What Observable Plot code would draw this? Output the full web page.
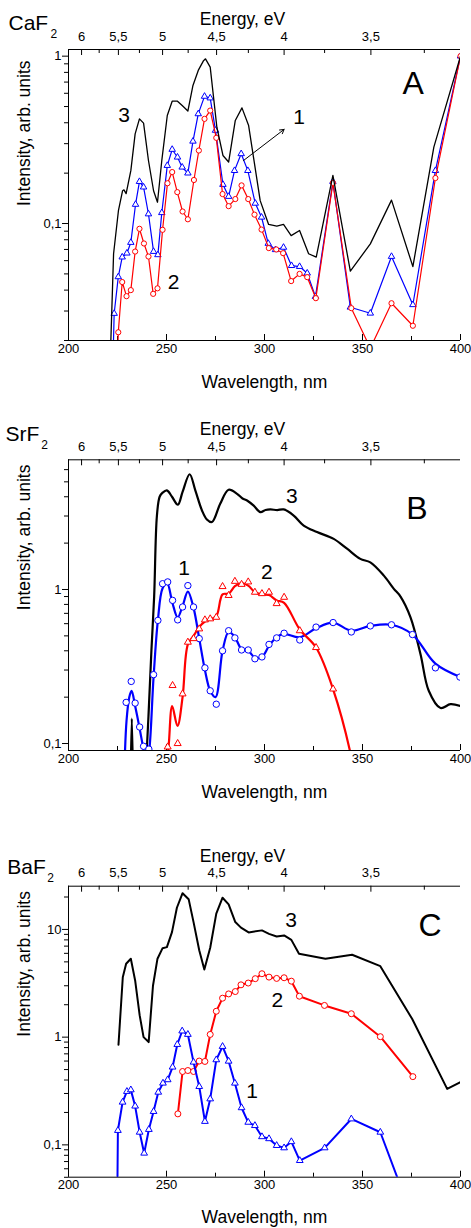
<!DOCTYPE html>
<html><head><meta charset="utf-8">
<script src="https://cdn.jsdelivr.net/npm/d3@7"></script>
<script src="https://cdn.jsdelivr.net/npm/@observablehq/plot@0.6"></script>
<style>
html,body{margin:0;padding:0;background:#fff;}
#chart{width:471px;height:1228px;overflow:hidden;}
#chart svg{display:block;}
</style></head><body><div id="chart"></div>
<script>
// ---------- axis ticks ----------
const wavelengthTicks = [200, 250, 300, 350, 400];
const wavelengthMinor = [225, 275, 325, 375];
const energyTicks = [6, 5.5, 5, 4.5, 4, 3.5];
const energyLabels = ["6", "5,5", "5", "4,5", "4", "3,5"];
const energyMinor = [5.75, 5.25, 4.75, 4.25, 3.75, 3.25];

// ---------- Panel A: CaF2 ----------
const cafCurve1 = [[222.5,0.012],[223.3,0.029],[225.4,0.048],[227.4,0.063],[229.8,0.0665],[231.8,0.077],[234.2,0.13],[236.2,0.178],[238.3,0.165],[240.8,0.114],[243.4,0.068],[245.6,0.065],[247.6,0.116],[250.4,0.222],[252.9,0.277],[255.6,0.249],[258.0,0.217],[260.9,0.2],[263.5,0.31],[266.2,0.452],[269.4,0.575],[272.3,0.562],[275.0,0.36],[278.8,0.171],[281.7,0.145],[284.7,0.207],[288.1,0.261],[291.5,0.207],[295.3,0.132],[298.5,0.109],[301.9,0.076],[305.6,0.0697],[309.7,0.072],[313.8,0.056],[317.9,0.0553],[321.8,0.0505],[326.0,0.0366],[334.9,0.178],[343.8,0.0316],[354.0,0.0291],[364.8,0.0635],[375.7,0.0327],[387.2,0.207],[400,1.0]];
const cafCurve2 = [[224.6,0.01],[225.4,0.0224],[227.4,0.0447],[229.6,0.0368],[231.8,0.040],[234.0,0.068],[236.2,0.093],[238.5,0.076],[240.8,0.0635],[243.2,0.038],[245.4,0.041],[248.0,0.0917],[250.5,0.174],[252.9,0.203],[255.5,0.154],[258.2,0.118],[260.9,0.106],[264.0,0.182],[266.5,0.273],[269.4,0.422],[272.3,0.473],[275.4,0.325],[278.6,0.15],[281.7,0.127],[285.1,0.14],[288.3,0.169],[291.7,0.14],[294.9,0.113],[298.5,0.092],[302.2,0.0713],[306.0,0.070],[309.5,0.0665],[313.6,0.0453],[317.9,0.05],[321.8,0.0478],[326.2,0.0358],[334.9,0.175],[344.3,0.0312],[354.0,0.018],[364.8,0.0334],[375.7,0.0245],[387.2,0.187],[400,1.0]];
const cafCurve3 = [[220.8,0.01],[223.0,0.066],[225.5,0.12],[227.6,0.157],[228.3,0.159],[229.4,0.151],[231.8,0.207],[234.0,0.343],[236.2,0.422],[238.3,0.398],[240.8,0.238],[243.4,0.157],[245.4,0.134],[247.6,0.238],[250.4,0.442],[252.9,0.538],[255.6,0.538],[258.0,0.507],[260.9,0.47],[263.5,0.668],[266.2,0.822],[268.9,0.94],[269.9,0.964],[272.3,0.86],[275.7,0.376],[278.8,0.255],[281.7,0.233],[285.1,0.413],[288.5,0.491],[291.9,0.385],[297.8,0.137],[302.1,0.0987],[306.3,0.0965],[309.7,0.0987],[313.6,0.0847],[317.9,0.0908],[322.5,0.066],[326.4,0.063],[334.9,0.194],[343.8,0.0519],[354.0,0.0756],[364.8,0.138],[375.7,0.0553],[386.4,0.286],[400,1.0]];
const cafCurveLabels = [{x:228.4,y:0.442,text:"3"},{x:253.6,y:0.0446,text:"2"},{x:317.7,y:0.432,text:"1"}];
const cafPanelLetter = [{x:375.9,y:0.687,text:"A"}];
const cafArrow = [{x1:289.3,y1:0.238,x2:310.0,y2:0.365}];

// ---------- Panel B: SrF2 ----------
const srfPoints1 = [[229.4,0.185],[232.0,0.253],[234.0,0.183],[236.3,0.128],[238.3,0.096],[241.0,0.092],[243.4,0.28],[245.6,0.63],[248.0,1.09],[250.6,1.12],[253.1,0.85],[255.7,0.635],[258.2,0.77],[260.9,1.06],[263.8,0.77],[266.7,0.48],[269.6,0.31],[272.3,0.22],[275.4,0.18],[278.6,0.40],[281.7,0.54],[284.9,0.485],[288.3,0.405],[291.7,0.405],[295.1,0.355],[298.7,0.365],[302.3,0.44],[306.2,0.485],[310.0,0.52],[318.0,0.47],[326.3,0.57],[335.0,0.61],[344.3,0.53],[354.0,0.58],[364.8,0.59],[375.5,0.51],[387.2,0.31],[399.7,0.27]];
const srfCurve1 = [[228.4,0.06],[229.6,0.14],[231.0,0.2],[232.2,0.22],[234.0,0.175],[236.3,0.125],[238.3,0.09],[239.5,0.07],[241.0,0.085],[243.4,0.27],[245.6,0.63],[248.0,1.02],[250.3,1.1],[253.0,0.82],[255.7,0.66],[258.2,0.78],[260.9,0.97],[263.8,0.76],[266.7,0.48],[269.6,0.3],[272.3,0.22],[275.0,0.2],[278.6,0.4],[281.7,0.53],[284.9,0.49],[288.3,0.41],[291.7,0.4],[295.1,0.36],[298.7,0.365],[302.3,0.43],[306.2,0.49],[310.0,0.515],[318.0,0.49],[326.3,0.56],[335.0,0.61],[344.3,0.54],[354.0,0.58],[364.8,0.59],[375.5,0.51],[387.2,0.33],[400,0.27]];
const srfPoints2 = [[250.6,0.095],[253.1,0.238],[255.7,0.10],[258.2,0.21],[260.9,0.455],[263.8,0.48],[266.7,0.555],[269.6,0.635],[272.3,0.645],[275.4,0.66],[278.6,1.045],[281.7,0.915],[284.9,1.13],[288.3,1.08],[291.7,1.12],[295.1,0.96],[298.7,0.94],[302.3,0.96],[306.2,0.81],[310.0,0.89],[318.0,0.54],[326.3,0.42],[335.0,0.226]];
const srfCurve2 = [[249.8,0.06],[251.2,0.1],[252.9,0.175],[255.6,0.13],[258.2,0.2],[260.9,0.44],[263.8,0.5],[266.7,0.57],[269.6,0.62],[272.3,0.64],[275.4,0.67],[278.6,0.93],[281.7,0.94],[284.9,1.05],[288.3,1.1],[291.7,1.06],[295.1,0.96],[298.7,0.93],[302.3,0.92],[306.2,0.85],[310.0,0.82],[318.0,0.55],[326.3,0.42],[335.0,0.225],[344.0,0.085],[346.0,0.06]];
const srfCurve3 = [[231.6,0.05],[232.3,0.145],[233.0,0.05],[235.0,NaN],[238.9,0.05],[240.8,0.15],[242.3,0.4],[243.7,0.9],[245.1,3.0],[246.5,4.0],[248.0,4.25],[250.2,4.4],[252.8,4.0],[255.8,3.55],[258.2,4.3],[261.8,5.6],[264.7,4.4],[268.1,3.26],[270.6,2.85],[273.2,2.74],[277.4,3.6],[281.7,4.44],[286.0,4.18],[288.8,3.9],[291.1,3.78],[294.5,3.5],[297.9,3.18],[300.5,3.28],[303.0,3.31],[306.5,3.28],[309.8,3.31],[314.9,3.02],[320.0,2.6],[326.8,2.36],[335.3,2.13],[342.1,1.84],[348.9,1.58],[354.0,1.5],[360.9,1.23],[366.0,1.01],[369.4,0.9],[374.5,0.66],[379.6,0.38],[383.8,0.22],[389.8,0.17],[394.9,0.18],[400,0.175]];
const srfCurveLabels = [{x:314.0,y:4.04,text:"3"},{x:259.0,y:1.37,text:"1"},{x:301.2,y:1.29,text:"2"}];
const srfPanelLetter = [{x:377.8,y:3.36,text:"B"}];

// ---------- Panel C: BaF2 ----------
const bafCurve1 = [[224.8,0.02],[225.2,0.136],[227.6,0.249],[229.8,0.313],[231.8,0.324],[234.0,0.229],[236.3,0.131],[238.6,0.0837],[241.0,0.139],[243.4,0.204],[245.8,0.308],[248.2,0.374],[250.6,0.402],[253.1,0.527],[255.5,0.855],[258.0,1.14],[260.9,1.06],[263.8,0.586],[266.7,0.348],[269.6,0.165],[272.3,0.267],[275.4,0.616],[278.6,0.819],[281.7,0.598],[284.9,0.374],[288.3,0.221],[291.7,0.162],[295.1,0.151],[298.7,0.119],[302.3,0.114],[306.2,0.0986],[310.0,0.0938],[313.7,0.107],[318.0,0.0715],[330.7,0.0938],[344.3,0.174],[359.1,0.131],[372.0,0.031]];
const bafCurve2 = [[255.8,0.194],[258.2,0.48],[260.9,0.49],[263.8,0.48],[266.7,0.6],[269.6,0.595],[272.3,1.06],[275.4,1.74],[278.6,2.3],[281.7,2.52],[285.1,2.65],[288.0,3.06],[291.7,3.18],[295.3,3.49],[298.7,3.88],[302.3,3.61],[306.2,3.51],[310.0,3.56],[313.7,3.31],[317.8,2.4],[330.6,1.97],[344.3,1.65],[359.1,1.01],[375.7,0.43]];
const bafCurve3 = [[225.5,0.85],[227.7,3.6],[229.4,4.8],[231.8,5.35],[234.0,3.36],[236.3,1.6],[238.3,1.0],[240.9,0.9],[243.1,3.0],[245.4,5.35],[248.0,6.7],[250.2,6.85],[252.8,9.45],[255.3,15.9],[258.2,21.7],[261.3,19.1],[263.8,11.7],[266.7,6.4],[269.3,4.25],[272.3,6.76],[275.4,14.0],[278.6,19.7],[281.7,17.1],[285.1,11.7],[288.0,10.4],[291.9,9.38],[298.7,9.8],[302.3,9.1],[306.2,8.6],[310.0,8.8],[313.7,8.0],[317.6,5.94],[331.1,5.35],[344.7,5.82],[359.1,4.56],[375.3,1.48],[393.2,0.331],[400,0.382]];
const bafCurveLabels = [{x:313.6,y:12.1,text:"3"},{x:306.5,y:2.19,text:"2"},{x:293.7,y:0.313,text:"1"}];
const bafPanelLetter = [{x:384.5,y:10.9,text:"C"}];

// ---------- helpers ----------
const rows = (pairs) => pairs.map(([x, y]) => ({x, y}));
const FONT = "'Liberation Sans', Arial, Helvetica, sans-serif";
const RED = "#ff0000", BLUE = "#0000ff";

function panel(o) {
  const plotH = o.height - o.marginTop - o.marginBottom;
  const eMajor = energyTicks.map(e => 1240 / e);
  const eLabel = new Map(eMajor.map((x, i) => [x, energyLabels[i]]));
  const eMinor = energyMinor.map(e => 1240 / e);
  const yLabel = new Map(o.yTicks.map((v, i) => [v, o.yLabels[i]]));
  return Plot.plot({
    width: 471, height: o.height,
    marginLeft: 68, marginRight: 11, marginTop: o.marginTop, marginBottom: o.marginBottom,
    style: {fontFamily: FONT, fontSize: "13px", color: "#000", background: "#fff", overflow: "visible"},
    x: {domain: [200, 400]},
    y: {type: "log", domain: o.yDomain},
    marks: [
      Plot.ruleX([200], {stroke: "#000", strokeWidth: 1}),
      Plot.ruleY(o.yDomain, {stroke: "#000", strokeWidth: 1}),
      Plot.axisY(o.yTicks, {anchor: "left", tickSize: 6, tickPadding: 1, tickFormat: d => yLabel.get(d), label: null}),
      Plot.axisY(o.yMinor, {anchor: "left", tickSize: 4, tickFormat: () => "", label: null}),
      Plot.tickX(wavelengthTicks, {x: d => d, insetTop: plotH - 6}),
      Plot.tickX(wavelengthMinor, {x: d => d, insetTop: plotH - 4}),
      Plot.axisX(wavelengthTicks, {anchor: "bottom", tickSize: 0, tickPadding: 3, label: null, tickFormat: d => String(d)}),
      Plot.tickX(eMajor, {x: d => d, insetBottom: plotH - 6}),
      Plot.tickX(eMinor, {x: d => d, insetBottom: plotH - 4}),
      Plot.axisX(eMajor, {anchor: "top", tickSize: 0, tickPadding: 9, label: null, tickFormat: d => eLabel.get(d)}),
      Plot.text(["Wavelength, nm"], {text: d => d, frameAnchor: "bottom", lineAnchor: "middle", dy: o.xTitleDy, fontSize: 17.5}),
      Plot.text(["Energy, eV"], {text: d => d, frameAnchor: "top", lineAnchor: "middle", dx: -22, dy: -30, fontSize: 17.5}),
      Plot.text(["Intensity, arb. units"], {text: d => d, frameAnchor: "left", lineAnchor: "middle", rotate: -90, dx: -44.5, dy: o.yTitleDy, fontSize: 17.5}),
      Plot.text([o.title], {text: d => d, frameAnchor: "top-left", lineAnchor: "middle", textAnchor: "start", dx: o.titleX - 68, dy: o.titleDy, fontSize: 21}),
      Plot.text([o.titleSub], {text: d => d, frameAnchor: "top-left", lineAnchor: "middle", textAnchor: "start", dx: o.subX - 68, dy: o.subDy, fontSize: 12}),
      ...o.marks
    ]
  });
}

const chart = document.getElementById("chart");

// Panel A
chart.appendChild(panel({
  height: 400, marginTop: 49, marginBottom: 60, yDomain: [0.02, 1.096],
  yTicks: [0.1, 1], yLabels: ["0,1", "1"],
  yMinor: [0.02,0.03,0.04,0.05,0.06,0.07,0.08,0.09,0.2,0.3,0.4,0.5,0.6,0.7,0.8,0.9],
  title: "CaF", titleSub: "2", titleX: 8, titleDy: -26.2, subX: 50, subDy: -15.8, xTitleDy: 41.5, yTitleDy: 11,
  marks: [
    Plot.line(rows(cafCurve1), {x: "x", y: "y", stroke: BLUE, strokeWidth: 1.2, clip: true}),
    Plot.dot(rows(cafCurve1), {x: "x", y: "y", symbol: "triangle", r: 2.4, stroke: BLUE, fill: "#fff", strokeWidth: 1, clip: true}),
    Plot.line(rows(cafCurve2), {x: "x", y: "y", stroke: RED, strokeWidth: 1.2, clip: true}),
    Plot.dot(rows(cafCurve2), {x: "x", y: "y", symbol: "circle", r: 2.6, stroke: RED, fill: "#fff", strokeWidth: 1, clip: true}),
    Plot.line(rows(cafCurve3), {x: "x", y: "y", stroke: "#000", strokeWidth: 1.3, clip: true}),
    Plot.arrow(cafArrow, {x1: "x1", y1: "y1", x2: "x2", y2: "y2", stroke: "#000", strokeWidth: 1, headLength: 7}),
    Plot.text(cafCurveLabels, {x: "x", y: "y", text: "text", fontSize: 21}),
    Plot.text(cafPanelLetter, {x: "x", y: "y", text: "text", fontSize: 32})
  ]
}));

// Panel B
chart.appendChild(panel({
  height: 420, marginTop: 59.3, marginBottom: 70, yDomain: [0.0901, 6.95],
  yTicks: [0.1, 1], yLabels: ["0,1", "1"],
  yMinor: [0.2,0.3,0.4,0.5,0.6,0.7,0.8,0.9,2,3,4,5,6],
  title: "SrF", titleSub: "2", titleX: 5, titleDy: -26, subX: 40.7, subDy: -15.1, xTitleDy: 41.5, yTitleDy: 5,
  marks: [
    Plot.line(rows(srfCurve3), {x: "x", y: "y", stroke: "#000", strokeWidth: 2.2, curve: "catmull-rom", clip: true}),
    Plot.line(rows(srfCurve1), {x: "x", y: "y", stroke: BLUE, strokeWidth: 2.2, curve: "catmull-rom", clip: true}),
    Plot.dot(rows(srfPoints1), {x: "x", y: "y", symbol: "circle", r: 3.2, stroke: BLUE, fill: "#fff", strokeWidth: 1, clip: true}),
    Plot.line(rows(srfCurve2), {x: "x", y: "y", stroke: RED, strokeWidth: 2.2, curve: "catmull-rom", clip: true}),
    Plot.dot(rows(srfPoints2), {x: "x", y: "y", symbol: "triangle", r: 2.6, stroke: RED, fill: "#fff", strokeWidth: 1, clip: true}),
    Plot.text(srfCurveLabels, {x: "x", y: "y", text: "text", fontSize: 21}),
    Plot.text(srfPanelLetter, {x: "x", y: "y", text: "text", fontSize: 32})
  ]
}));

// Panel C
chart.appendChild(panel({
  height: 408, marginTop: 65.7, marginBottom: 51.3, yDomain: [0.0501, 25.2],
  yTicks: [0.1, 1, 10], yLabels: ["0,1", "1", "10"],
  yMinor: [0.05,0.06,0.07,0.08,0.09,0.2,0.3,0.4,0.5,0.6,0.7,0.8,0.9,2,3,4,5,6,7,8,9,20],
  title: "BaF", titleSub: "2", titleX: 6.7, titleDy: -19.1, subX: 46.7, subDy: -7.8, xTitleDy: 40, yTitleDy: 5,
  marks: [
    Plot.line(rows(bafCurve3), {x: "x", y: "y", stroke: "#000", strokeWidth: 2, clip: true}),
    Plot.line(rows(bafCurve2), {x: "x", y: "y", stroke: RED, strokeWidth: 2, clip: true}),
    Plot.dot(rows(bafCurve2), {x: "x", y: "y", symbol: "circle", r: 3, stroke: RED, fill: "#fff", strokeWidth: 1, clip: true}),
    Plot.line(rows(bafCurve1), {x: "x", y: "y", stroke: BLUE, strokeWidth: 2, clip: true}),
    Plot.dot(rows(bafCurve1), {x: "x", y: "y", symbol: "triangle", r: 2.5, stroke: BLUE, fill: "#fff", strokeWidth: 1, clip: true}),
    Plot.text(bafCurveLabels, {x: "x", y: "y", text: "text", fontSize: 21}),
    Plot.text(bafPanelLetter, {x: "x", y: "y", text: "text", fontSize: 32})
  ]
}));
</script></body></html>
